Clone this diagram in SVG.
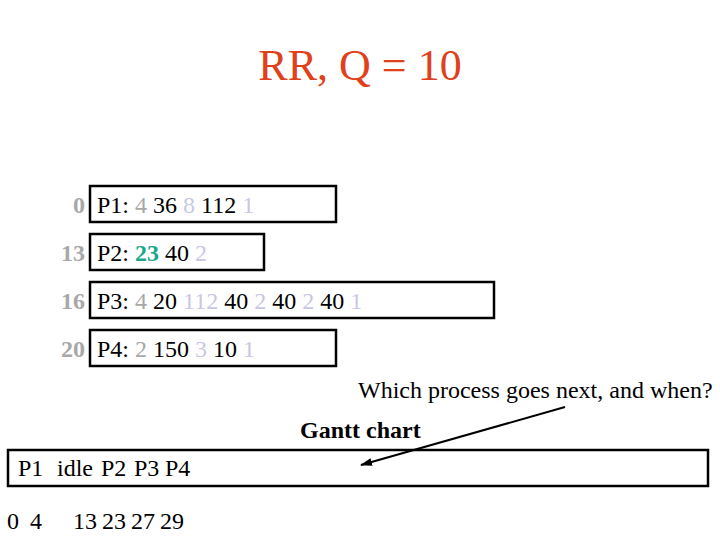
<svg xmlns="http://www.w3.org/2000/svg" width="720" height="540" viewBox="0 0 720 540">
<style>
text{font-family:"Liberation Serif","Times New Roman",serif;font-size:24px;fill:#000}
.box{fill:#fff;stroke:#000;stroke-width:2.5}
.lbl{fill:#a8a8a8;font-weight:bold;text-anchor:end}
.g{fill:#a8a8a8}
.l{fill:#c8c8e4}
.t{fill:#1aa88a;font-weight:bold}
.title{font-size:44px;fill:#e0401a;text-anchor:middle}
</style>
<defs>
<marker id="ah" markerWidth="12" markerHeight="8" refX="11" refY="4" orient="auto" markerUnits="userSpaceOnUse">
<path d="M0,0 L12,4 L0,8 Z" fill="#000"/>
</marker>
</defs>
<text class="title" x="360" y="80">RR, Q = 10</text>
<g id="p1">
<rect class="box" x="90" y="186" width="246" height="36"/>
<text class="lbl" x="85" y="213">0</text>
<text x="97" y="213">P1: <tspan class="g">4</tspan> 36 <tspan class="l">8</tspan> 112 <tspan class="l">1</tspan></text>
</g>
<g id="p2">
<rect class="box" x="90" y="234" width="174" height="36"/>
<text class="lbl" x="85" y="261">13</text>
<text x="97" y="261">P2: <tspan class="t">23</tspan> 40 <tspan class="l">2</tspan></text>
</g>
<g id="p3">
<rect class="box" x="90" y="282" width="404" height="36"/>
<text class="lbl" x="85" y="309">16</text>
<text x="97" y="309">P3: <tspan class="g">4</tspan> 20 <tspan class="l">112</tspan> 40 <tspan class="l">2</tspan> 40 <tspan class="l">2</tspan> 40 <tspan class="l">1</tspan></text>
</g>
<g id="p4">
<rect class="box" x="90" y="330" width="246" height="36"/>
<text class="lbl" x="85" y="357">20</text>
<text x="97" y="357">P4: <tspan class="g">2</tspan> 150 <tspan class="l">3</tspan> 10 <tspan class="l">1</tspan></text>
</g>
<g id="question">
<text x="358" y="398">Which process goes next, and when?</text>
</g>
<g id="gantt">
<text x="300" y="438" font-weight="bold">Gantt chart</text>
<rect class="box" x="8" y="450" width="700" height="36"/>
<text y="476"><tspan x="18">P1</tspan><tspan x="57">idle</tspan><tspan x="101">P2</tspan><tspan x="134">P3</tspan><tspan x="165">P4</tspan></text>
<text y="529"><tspan x="7">0</tspan><tspan x="30">4</tspan><tspan x="73">13</tspan><tspan x="102">23</tspan><tspan x="131">27</tspan><tspan x="160">29</tspan></text>
</g>
<g id="connectors">
<line x1="565" y1="407" x2="361" y2="465" stroke="#000" stroke-width="2" marker-end="url(#ah)"/>
</g>
</svg>
